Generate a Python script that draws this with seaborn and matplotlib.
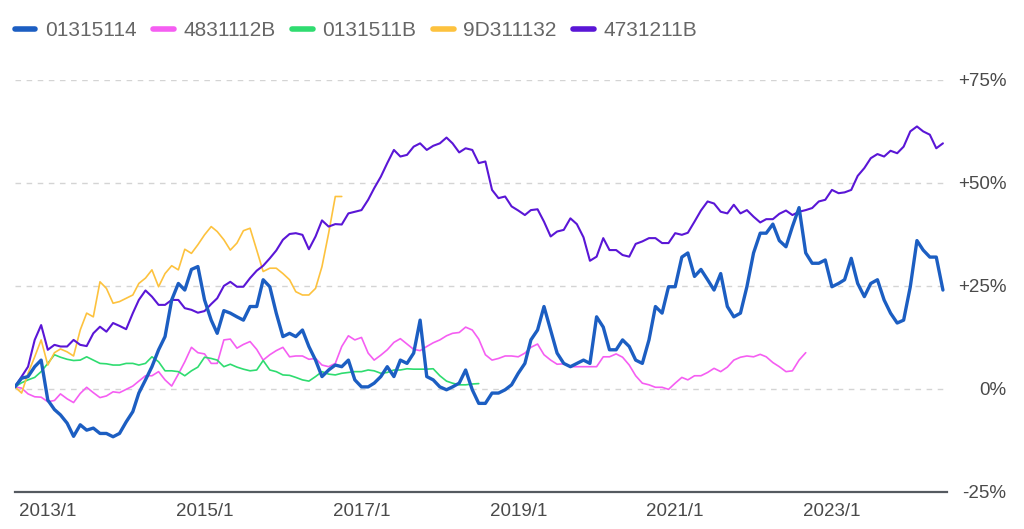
import pandas as pd
import seaborn as sns
import matplotlib.pyplot as plt

# monthly readings (% change), all series start 2012/8
start = "2012-08-01"

s_01315114 = [0.5, 2.6, 3.0, 5.4, 7.0, -2.7, -5.0, -6.3, -8.3, -11.5, -8.7, -10.0,
              -9.5, -10.8, -10.8, -11.6, -10.8, -8.0, -5.5, -1.0, 2.2, 5.4, 9.5, 12.7,
              21.6, 25.6, 24.0, 29.0, 29.7, 21.6, 16.7, 13.5, 19.0, 18.4, 17.5, 16.7,
              20.0, 20.0, 26.5, 24.8, 18.4, 12.7, 13.5, 12.7, 14.3, 10.3, 7.0, 3.0,
              4.6, 5.8, 5.4, 7.0, 2.2, 0.5, 0.5, 1.4, 3.0, 5.4, 3.0, 7.0,
              6.2, 8.7, 16.7, 3.0, 2.2, 0.5, -0.2, 0.5, 1.4, 4.6, -0.2, -3.5,
              -3.5, -1.0, -1.0, -0.2, 1.0, 3.8, 6.2, 11.9, 14.3, 20.0, 14.3, 8.7,
              6.2, 5.4, 6.2, 7.0, 6.2, 17.5, 15.0, 9.5, 9.5, 11.9, 10.3, 7.0,
              6.2, 11.9, 20.0, 18.4, 24.8, 24.8, 32.0, 33.0, 27.3, 29.0, 26.5, 24.0,
              28.0, 20.0, 17.5, 18.4, 24.8, 33.0, 37.8, 37.8, 40.0, 36.0, 34.5, 39.4,
              44.0, 33.0, 30.5, 30.5, 31.3, 24.8, 25.6, 26.5, 31.7, 25.6, 22.4, 25.6,
              26.5, 21.6, 18.4, 16.0, 16.7, 24.8, 36.0, 33.7, 32.0, 32.0, 24.0]

s_4831112B = [0.5, 0.2, -1.2, -1.9, -2.0, -3.1, -2.8, -1.2, -2.4, -3.3, -1.1, 0.4,
              -0.9, -2.1, -1.7, -0.7, -0.9, -0.1, 0.7, 1.9, 3.2, 3.2, 4.2, 2.2,
              0.7, 3.6, 6.6, 10.1, 8.8, 8.5, 6.2, 6.2, 11.9, 12.1, 9.9, 10.8,
              11.5, 9.6, 7.0, 8.3, 9.3, 10.1, 7.8, 8.0, 8.0, 7.2, 7.4, 5.8,
              5.4, 6.2, 10.3, 12.9, 11.9, 12.5, 8.7, 7.0, 8.2, 9.5, 11.3, 12.2,
              10.9, 9.6, 9.3, 10.3, 11.2, 11.9, 12.9, 13.5, 13.7, 15.0, 14.3, 12.1,
              8.3, 7.0, 7.4, 8.0, 8.0, 7.8, 8.7, 10.1, 10.9, 8.3, 7.0, 6.0,
              6.1, 5.4, 5.4, 5.4, 5.4, 5.4, 7.8, 7.8, 8.5, 7.7, 5.8, 3.2,
              1.4, 1.0, 0.4, 0.4, -0.1, 1.4, 2.8, 2.2, 3.2, 3.2, 4.0, 5.0,
              4.2, 5.3, 7.0, 7.7, 8.0, 7.8, 8.4, 7.8, 6.4, 5.4, 4.2, 4.4,
              7.0, 8.8]

s_0131511B = [0.5, 1.5, 2.2, 2.8, 4.2, 6.2, 8.3, 7.7, 7.2, 6.9, 7.0, 7.8,
              7.0, 6.2, 6.1, 5.8, 5.8, 6.2, 6.2, 5.8, 6.2, 7.8, 6.6, 4.4,
              4.4, 4.2, 3.2, 4.4, 5.3, 7.7, 7.4, 7.0, 5.4, 6.0, 5.3, 4.8,
              4.4, 4.6, 6.9, 4.6, 4.2, 3.4, 3.3, 2.8, 2.2, 1.9, 3.0, 4.2,
              3.6, 3.4, 3.8, 4.0, 4.2, 4.2, 4.6, 4.4, 3.8, 4.0, 4.6, 4.6,
              4.9, 4.8, 4.8, 4.8, 4.9, 3.2, 1.9, 1.4, 1.0, 1.0, 1.2, 1.3]

s_9D311132 = [0.5, -1.0, 3.8, 7.8, 11.9, 5.8, 8.8, 9.7, 9.0, 8.0, 14.3, 18.4,
              17.5, 26.0, 24.4, 20.8, 21.2, 22.0, 22.8, 25.6, 26.9, 28.9, 24.8, 28.0,
              29.9, 28.9, 33.9, 32.9, 35.0, 37.4, 39.4, 38.2, 36.2, 33.7, 35.4, 38.4,
              39.0, 33.7, 28.5, 29.3, 29.3, 28.0, 26.5, 23.6, 22.8, 22.8, 24.4, 29.7,
              37.8, 46.7, 46.7]

s_4731211B = [0.5, 3.0, 5.4, 11.9, 15.5, 9.5, 10.7, 10.3, 10.3, 11.9, 10.7, 10.4,
              13.5, 15.1, 13.9, 16.0, 15.3, 14.5, 18.4, 21.6, 23.9, 22.4, 20.4, 20.4,
              21.6, 21.6, 19.6, 19.2, 18.5, 18.9, 20.6, 22.0, 25.0, 26.0, 24.8, 24.8,
              26.9, 28.7, 29.9, 31.7, 33.6, 36.2, 37.6, 37.8, 37.4, 33.9, 37.0, 40.9,
              39.4, 40.0, 39.9, 42.6, 43.0, 43.4, 45.9, 48.7, 51.5, 54.8, 58.0, 56.4,
              56.8, 58.8, 59.6, 58.0, 59.0, 59.6, 61.0, 59.6, 57.4, 58.4, 58.0, 54.8,
              55.2, 48.3, 46.3, 46.7, 44.3, 43.3, 42.2, 43.4, 43.6, 40.6, 37.0, 38.2,
              38.6, 41.4, 40.0, 36.8, 31.1, 32.1, 36.6, 33.7, 33.7, 32.5, 32.1, 35.2,
              35.8, 36.6, 36.6, 35.4, 35.4, 37.8, 37.4, 37.9, 40.6, 43.3, 45.5, 45.0,
              43.0, 42.6, 44.7, 42.6, 43.4, 41.8, 40.4, 41.2, 41.2, 42.5, 43.3, 42.2,
              43.0, 43.4, 43.9, 45.5, 45.9, 48.3, 47.5, 47.7, 48.3, 51.7, 53.6, 56.0,
              57.0, 56.4, 57.8, 57.2, 58.8, 62.5, 63.7, 62.5, 61.7, 58.4, 59.6]

names = ["01315114", "4831112B", "0131511B", "9D311132", "4731211B"]
series = [s_01315114, s_4831112B, s_0131511B, s_9D311132, s_4731211B]
colors = ["#1c5ec2", "#f55ef2", "#2fdc70", "#fdc23e", "#5a16d6"]
widths = [2.4, 1.2, 1.2, 1.2, 1.5]

y_ticks = [-25, 0, 25, 50, 75]
y_labels = ["-25%", "0%", "+25%", "+50%", "+75%"]
x_ticks = ["2013-01-01", "2015-01-01", "2017-01-01", "2019-01-01", "2021-01-01", "2023-01-01"]
x_labels = ["2013/1", "2015/1", "2017/1", "2019/1", "2021/1", "2023/1"]

frames = []
for name, vals in zip(names, series):
    frames.append(pd.DataFrame({
        "date": pd.date_range(start, periods=len(vals), freq="MS"),
        "pct": vals,
        "fund": name,
    }))
data = pd.concat(frames, ignore_index=True)

sns.set_style("white")
plt.rcParams["font.family"] = ["Liberation Sans", "DejaVu Sans"]

fig = plt.figure(figsize=(10.24, 5.29), dpi=100)
ax = fig.add_axes([0.0146, 0.070, 0.910, 0.779])

sns.lineplot(data=data, x="date", y="pct", hue="fund", hue_order=names,
             palette=dict(zip(names, colors)), ax=ax, legend=False)

for line, lw, name in zip(ax.get_lines(), widths, names):
    line.set_linewidth(lw)
    line.set_label(name)
    line.set_solid_joinstyle("round")
ax.get_lines()[0].set_zorder(5)

ax.set_ylim(-25, 75)
ax.set_xlim(pd.Timestamp(start), pd.Timestamp(start) + pd.DateOffset(months=142) + pd.Timedelta(days=18))
ax.set_yticks(y_ticks)
ax.set_yticklabels(y_labels)
ax.set_xticks(pd.to_datetime(x_ticks))
ax.set_xticklabels(x_labels)
ax.set_xlabel("")
ax.set_ylabel("")

ax.yaxis.tick_right()
ax.tick_params(axis="y", length=0, pad=43, labelsize=13.5, labelcolor="#4a4a4a")
for lab in ax.get_yticklabels():
    lab.set_horizontalalignment("right")
ax.tick_params(axis="x", length=0, pad=8, labelsize=13.5, labelcolor="#4a4a4a")

ax.grid(axis="y", color="#d4d4d4", linestyle=(0, (4, 4)), linewidth=1)
ax.grid(axis="x", visible=False)
for side in ["top", "left", "right"]:
    ax.spines[side].set_visible(False)
ax.spines["bottom"].set_color("#555a60")
ax.spines["bottom"].set_linewidth(1.6)

handles = [plt.Line2D([], [], color=c, lw=4) for c in colors]
fig.legend(handles, names, loc="upper left", bbox_to_anchor=(-0.004, 0.995), ncol=5,
           frameon=False, fontsize=15, handlelength=1.0, handletextpad=0.45,
           columnspacing=0.8, labelcolor="#666666")

fig.savefig("out.png", dpi=100)
